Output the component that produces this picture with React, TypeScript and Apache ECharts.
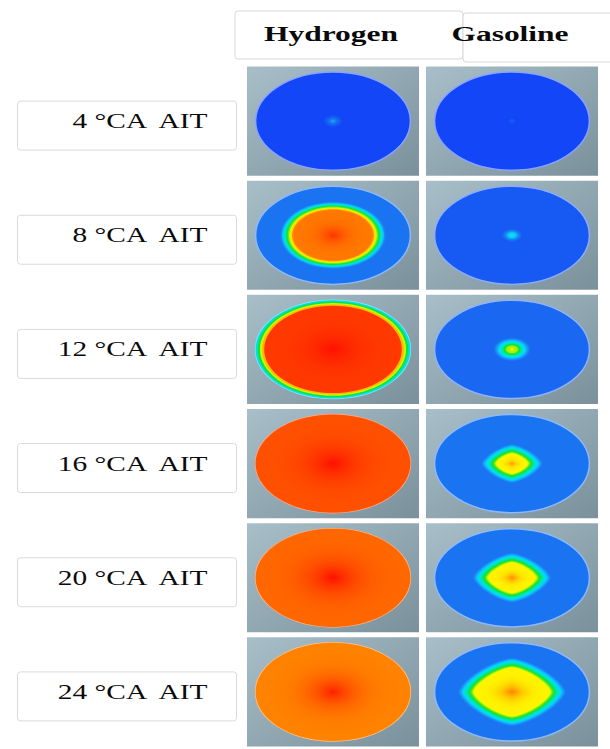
import React, { useEffect, useRef } from "react";
import * as echarts from "echarts";

// ---------- data ----------
const fuels = ["Hydrogen", "Gasoline"];
const crankAngles = ["4 °CA  AIT", "8 °CA  AIT", "12 °CA  AIT", "16 °CA  AIT", "20 °CA  AIT", "24 °CA  AIT"];

// flame kernel half-size, as a fraction of the chamber radius
const hydrogenKernel = [0.14, 0.68, 1.0, 1.0, 1.0, 1.0];
const gasolineKernel = [0.08, 0.14, 0.24, 0.4, 0.51, 0.7];
// end of the burnt plateau, as a fraction of the kernel
const hydrogenPlateau = [0.15, 0.76, 0.88, 1.0, 1.0, 1.0];
const gasolinePlateau = [0.15, 0.25, 0.3, 0.5, 0.6, 0.7];
// normalised temperature levels (0 = coldest, 1 = hottest)
const hydrogenPeak = [0.2, 0.94, 1.0, 1.0, 1.0, 0.97];
const hydrogenBurnt = [0.14, 0.82, 0.93, 0.89, 0.85, 0.8];
const hydrogenUnburnt = [0.0, 0.09, 0.2, 0.89, 0.85, 0.8];
const gasolinePeak = [0.07, 0.3, 0.6, 0.76, 0.78, 0.8];
const gasolineBurnt = [0.05, 0.24, 0.5, 0.6, 0.6, 0.6];
const gasolineUnburnt = [0.0, 0.04, 0.07, 0.09, 0.09, 0.09];

// ---------- colour scale ----------
const jetStops: [number, string][] = [
  [0.0, "#1246f6"],
  [0.06, "#1a62f2"],
  [0.1, "#1a78f0"],
  [0.16, "#1aa4f8"],
  [0.22, "#00dcff"],
  [0.32, "#00e8a0"],
  [0.4, "#10e030"],
  [0.5, "#a8f000"],
  [0.58, "#ffff00"],
  [0.66, "#ffd000"],
  [0.74, "#ffa000"],
  [0.82, "#ff7800"],
  [0.9, "#ff4a00"],
  [1.0, "#ff1000"],
];

function hexToRgb(h: string): number[] {
  const v = parseInt(h.slice(1), 16);
  return [(v >> 16) & 255, (v >> 8) & 255, v & 255];
}
function rgbStr(c: number[]): string {
  return "rgb(" + c.map((x) => Math.round(x)).join(",") + ")";
}
function jetRgb(level: number): number[] {
  const l = Math.max(0, Math.min(1, level));
  for (let i = 0; i < jetStops.length - 1; i++) {
    const [l0, c0] = jetStops[i];
    const [l1, c1] = jetStops[i + 1];
    if (l <= l1) {
      const t = (l - l0) / (l1 - l0);
      const a = hexToRgb(c0);
      const b = hexToRgb(c1);
      return a.map((x, k) => x + (b[k] - x) * t);
    }
  }
  return hexToRgb(jetStops[jetStops.length - 1][1]);
}
function jet(level: number): string {
  return rgbStr(jetRgb(level));
}
function lighten(level: number, t: number): string {
  return rgbStr(jetRgb(level).map((x) => x + (255 - x) * t));
}

function levelAt(rho: number, e: number, peak: number, burnt: number, unburnt: number): number {
  if (rho <= e) {
    const t = 1 - rho / e;
    return burnt + (peak - burnt) * t * t * t;
  }
  const t = (rho - e) / (1 - e);
  return burnt + (unburnt - burnt) * Math.pow(t, 0.7);
}

function kernelPoints(cx: number, cy: number, a: number, b: number, n: number): number[][] {
  const pts: number[][] = [];
  const N = 72;
  for (let k = 0; k < N; k++) {
    const th = (k / N) * Math.PI * 2;
    const c = Math.cos(th);
    const s = Math.sin(th);
    pts.push([
      cx + a * Math.sign(c) * Math.pow(Math.abs(c), 2 / n),
      cy + b * Math.sign(s) * Math.pow(Math.abs(s), 2 / n),
    ]);
  }
  return pts;
}

export default function App() {
  const ref = useRef<HTMLDivElement>(null);

  useEffect(() => {
    if (!ref.current) return;
    const chart = echarts.init(ref.current, undefined, { renderer: "svg" });

    const cellData: number[][] = [];
    crankAngles.forEach((_, ri) => {
      cellData.push([0, ri, hydrogenKernel[ri], hydrogenPlateau[ri], hydrogenPeak[ri], hydrogenBurnt[ri], hydrogenUnburnt[ri]]);
      cellData.push([1, ri, gasolineKernel[ri], gasolinePlateau[ri], gasolinePeak[ri], gasolineBurnt[ri], gasolineUnburnt[ri]]);
    });

    const cellSeries = {
      type: "custom",
      clip: false,
      data: cellData,
      renderItem: (params: any, api: any) => {
        const fi = api.value(0);
        const ri = api.value(1);
        const size = api.value(2);
        const e = api.value(3);
        const peak = api.value(4);
        const burnt = api.value(5);
        const unburnt = api.value(6);
        const [cx, cy] = api.coord([fi, ri]);
        const [bw, bh] = api.size([1, 1]);
        const pw = bw - 7;
        const ph = bh - 5;
        const rx = pw * 0.45;
        const ry = ph * 0.45;
        const children: any[] = [
          {
            type: "rect",
            shape: { x: cx - pw / 2, y: cy - ph / 2, width: pw, height: ph },
            style: {
              fill: {
                type: "linear",
                x: 0,
                y: 0,
                x2: 1,
                y2: 1,
                colorStops: [
                  { offset: 0, color: "#a8bfca" },
                  { offset: 1, color: "#7a909b" },
                ],
              },
            },
          },
          {
            type: "ellipse",
            shape: { cx, cy, rx, ry },
            style: { fill: jet(unburnt), stroke: lighten(unburnt, 0.5), lineWidth: 1.5 },
          },
        ];
        const K = 36;
        // gasoline kernels grow into a rounded diamond, small kernels stay round
        const n = fi === 1 && size > 0.3 ? 1.45 : 2;
        for (let i = 0; i < K; i++) {
          const rOut = 1 - i / K;
          const lvl = levelAt(rOut - 0.5 / K, e, peak, burnt, unburnt);
          const a = rx * size * rOut;
          const b = ry * size * rOut;
          children.push({
            type: "polygon",
            shape: { points: kernelPoints(cx, cy, a, b, n) },
            style: { fill: jet(lvl) },
          });
        }
        return { type: "group", children };
      },
    };

    const labelSeries = {
      type: "custom",
      clip: false,
      data: crankAngles.map((_, i) => [0, i]),
      renderItem: (params: any, api: any) => {
        const ri = api.value(1);
        const [, cy] = api.coord([0, ri]);
        const gx = params.coordSys.x;
        return {
          type: "group",
          children: [
            {
              type: "rect",
              shape: { x: gx - 226, y: cy - 20, width: 219, height: 49, r: 3 },
              style: { fill: "#ffffff", stroke: "#dadada", lineWidth: 1 },
            },
            {
              type: "text",
              x: gx - 36,
              y: cy,
              scaleX: 1.4,
              style: {
                text: crankAngles[ri],
                fill: "#0a0a0a",
                font: '21px "Liberation Serif"',
                align: "right",
                verticalAlign: "middle",
              },
            },
          ],
        };
      },
    };

    const headerSeries = {
      type: "custom",
      clip: false,
      data: fuels.map((_, i) => [i, 0]),
      renderItem: (params: any, api: any) => {
        const fi = api.value(0);
        const [cx] = api.coord([fi, 0]);
        const gy = params.coordSys.y;
        const box =
          fi === 0
            ? { x: cx - 98, y: gy - 53, width: 228, height: 48, r: 3 }
            : { x: cx - 49, y: gy - 51, width: 160, height: 49, r: 3 };
        return {
          type: "group",
          children: [
            { type: "rect", shape: box, style: { fill: "#ffffff", stroke: "#d8d8d8", lineWidth: 1 } },
            {
              type: "text",
              x: cx - 2,
              y: gy - 30,
              scaleX: 1.5,
              style: {
                text: fuels[fi],
                fill: "#0a0a0a",
                font: 'bold 21px "Liberation Serif"',
                align: "center",
                verticalAlign: "middle",
              },
            },
          ],
        };
      },
    };

    chart.setOption({
      animation: false,
      backgroundColor: "#ffffff",
      grid: { left: 243.5, top: 64, width: 358, height: 687 },
      xAxis: { type: "category", data: fuels, show: false },
      yAxis: { type: "category", data: crankAngles, inverse: true, show: false },
      series: [headerSeries, labelSeries, cellSeries],
    });

    return () => chart.dispose();
  }, []);

  return (
    <div
      ref={ref}
      style={{ position: "fixed", left: 0, top: 0, width: 610, height: 749, background: "#fff" }}
    />
  );
}
